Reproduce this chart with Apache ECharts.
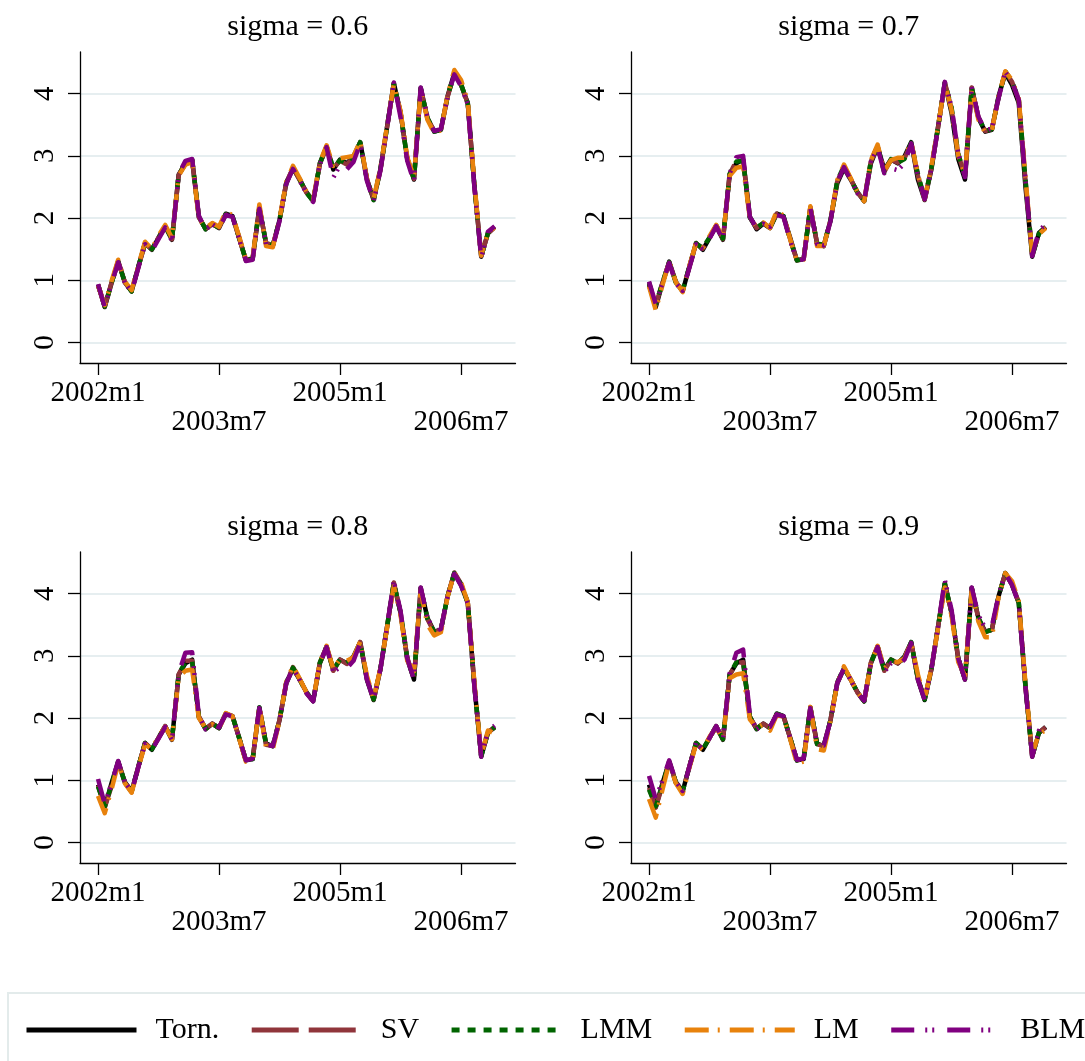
<!DOCTYPE html>
<html><head><meta charset="utf-8">
<script src="https://cdn.jsdelivr.net/npm/echarts@6/dist/echarts.min.js"></script>
<style>html,body{margin:0;padding:0;background:#fff}#c{width:1085px;height:1061px}</style>
</head><body><div id="c"></div><script>
const MONTH_TICKS = [0, 18, 36, 54];
const MONTH_LABELS = ['2002m1', '2003m7', '2005m1', '2006m7'];
const Y_TICKS = [0, 1, 2, 3, 4];
const SERIES_NAMES = ['Torn.', 'SV', 'LMM', 'LM', 'BLM'];
const PANEL_TITLES = ['sigma = 0.6', 'sigma = 0.7', 'sigma = 0.8', 'sigma = 0.9'];

const TORN = [
0.93,0.57,0.95,1.30,0.97,0.82,1.22,1.60,1.49,1.68,
1.87,1.65,2.70,2.88,2.94,2.02,1.82,1.91,1.84,2.07,
2.03,1.68,1.32,1.34,2.17,1.59,1.55,1.97,2.56,2.80,
2.62,2.42,2.27,2.88,3.15,2.78,2.94,2.88,2.99,3.22,
2.62,2.29,2.78,3.47,4.17,3.69,2.95,2.62,4.09,3.61,
3.39,3.42,3.96,4.33,4.14,3.85,2.50,1.38,1.76,1.86];

const SV_06 = [
0.92,0.58,0.96,1.31,0.96,0.83,1.21,1.59,1.50,1.69,
1.86,1.66,2.69,2.89,2.93,2.01,1.83,1.90,1.85,2.06,
2.04,1.67,1.33,1.35,2.16,1.60,1.56,1.96,2.57,2.81,
2.61,2.41,2.28,2.87,3.14,2.80,2.92,2.86,2.98,3.21,
2.63,2.30,2.77,3.46,4.16,3.70,2.96,2.63,4.08,3.60,
3.40,3.41,3.95,4.32,4.15,3.84,2.51,1.39,1.75,1.85];
const LMM_06 = [
0.93,0.58,0.95,1.30,0.96,0.82,1.22,1.60,1.50,1.68,
1.87,1.66,2.70,2.87,2.93,2.02,1.82,1.91,1.84,2.06,
2.03,1.68,1.32,1.35,2.17,1.59,1.56,1.97,2.56,2.80,
2.62,2.41,2.27,2.88,3.15,2.80,2.93,2.88,2.98,3.22,
2.62,2.29,2.78,3.47,4.16,3.69,2.95,2.63,4.09,3.61,
3.39,3.42,3.96,4.33,4.15,3.85,2.50,1.38,1.76,1.86];
const LM_06 = [
0.92,0.60,0.98,1.33,0.98,0.84,1.24,1.62,1.50,1.72,
1.89,1.68,2.68,2.86,2.90,2.00,1.84,1.92,1.86,2.10,
2.05,1.70,1.34,1.36,2.22,1.55,1.53,1.99,2.58,2.84,
2.64,2.43,2.29,2.90,3.17,2.84,2.96,2.98,3.00,3.24,
2.64,2.31,2.80,3.49,4.15,3.72,2.98,2.66,4.06,3.58,
3.37,3.41,3.98,4.38,4.22,3.88,2.55,1.40,1.77,1.85];
const BLM_06 = [
0.94,0.57,0.94,1.29,0.96,0.81,1.20,1.58,1.47,1.66,
1.85,1.63,2.71,2.92,2.95,2.04,1.81,1.90,1.83,2.05,
2.02,1.66,1.31,1.33,2.15,1.58,1.54,1.95,2.55,2.79,
2.60,2.40,2.26,2.86,3.14,2.65,2.85,2.78,2.90,3.20,
2.60,2.27,2.76,3.45,4.18,3.62,2.92,2.58,4.10,3.63,
3.40,3.43,3.94,4.31,4.12,3.83,2.48,1.36,1.78,1.87];

const SV_07 = [
0.95,0.60,0.96,1.29,0.97,0.83,1.21,1.59,1.51,1.69,
1.88,1.66,2.71,2.92,2.93,2.01,1.84,1.92,1.85,2.07,
2.03,1.66,1.32,1.34,2.17,1.59,1.56,1.96,2.59,2.83,
2.63,2.41,2.28,2.91,3.15,2.74,2.94,2.89,2.96,3.21,
2.68,2.31,2.80,3.46,4.18,3.76,3.02,2.68,4.10,3.62,
3.40,3.43,3.94,4.35,4.19,3.90,2.60,1.40,1.75,1.85];
const LMM_07 = [
0.96,0.62,0.96,1.29,0.96,0.84,1.22,1.59,1.52,1.69,
1.88,1.67,2.71,2.91,2.92,2.01,1.85,1.92,1.85,2.07,
2.03,1.65,1.32,1.34,2.17,1.59,1.57,1.96,2.60,2.84,
2.62,2.41,2.28,2.92,3.16,2.73,2.95,2.89,2.95,3.21,
2.71,2.31,2.81,3.46,4.18,3.78,3.03,2.68,4.10,3.62,
3.40,3.43,3.94,4.36,4.20,3.91,2.62,1.40,1.75,1.85];
const LM_07 = [
0.90,0.52,0.92,1.30,0.97,0.81,1.23,1.60,1.52,1.71,
1.89,1.68,2.68,2.81,2.83,2.00,1.86,1.93,1.84,2.12,
2.04,1.66,1.31,1.33,2.19,1.55,1.55,1.97,2.61,2.86,
2.64,2.42,2.27,2.93,3.18,2.76,2.93,2.97,2.97,3.22,
2.70,2.30,2.83,3.48,4.16,3.74,3.00,2.70,4.07,3.58,
3.37,3.41,3.96,4.36,4.22,3.92,2.65,1.42,1.74,1.84];
const BLM_07 = [
0.98,0.62,0.95,1.28,0.95,0.83,1.20,1.58,1.50,1.67,
1.87,1.65,2.72,2.98,3.00,2.02,1.84,1.91,1.86,2.05,
2.02,1.64,1.31,1.34,2.16,1.58,1.56,1.95,2.58,2.82,
2.61,2.40,2.28,2.90,3.14,2.72,2.80,2.77,2.88,3.20,
2.69,2.30,2.79,3.45,4.19,3.79,3.04,2.66,4.11,3.63,
3.41,3.44,3.93,4.35,4.19,3.90,2.60,1.39,1.80,1.90];

const SV_08 = [
0.92,0.56,0.90,1.29,0.96,0.81,1.22,1.60,1.50,1.68,
1.87,1.66,2.70,2.92,2.92,2.03,1.83,1.91,1.84,2.07,
2.03,1.68,1.31,1.34,2.18,1.57,1.55,1.97,2.57,2.82,
2.62,2.41,2.27,2.89,3.15,2.76,2.94,2.87,2.96,3.22,
2.64,2.30,2.79,3.47,4.18,3.70,2.97,2.63,4.09,3.59,
3.38,3.42,3.96,4.34,4.16,3.86,2.52,1.39,1.77,1.85];
const LMM_08 = [
0.90,0.58,0.92,1.30,0.96,0.82,1.22,1.60,1.50,1.68,
1.87,1.66,2.71,2.90,2.91,2.02,1.83,1.91,1.84,2.07,
2.03,1.68,1.32,1.34,2.17,1.58,1.55,1.97,2.57,2.81,
2.62,2.41,2.27,2.89,3.15,2.77,2.94,2.88,2.97,3.22,
2.63,2.30,2.79,3.47,4.17,3.70,2.96,2.63,4.09,3.60,
3.38,3.42,3.96,4.33,4.15,3.86,2.51,1.39,1.77,1.85];
const LM_08 = [
0.75,0.47,0.85,1.27,0.95,0.80,1.20,1.58,1.50,1.70,
1.86,1.66,2.66,2.76,2.78,2.00,1.84,1.90,1.83,2.08,
2.03,1.67,1.30,1.33,2.19,1.52,1.50,1.96,2.58,2.84,
2.63,2.42,2.28,2.90,3.16,2.79,2.95,2.92,2.98,3.23,
2.68,2.31,2.80,3.45,4.12,3.66,2.92,2.75,4.05,3.50,
3.33,3.38,3.95,4.33,4.18,3.86,2.55,1.40,1.80,1.75];
const BLM_08 = [
1.02,0.62,0.95,1.31,0.97,0.82,1.21,1.59,1.49,1.67,
1.86,1.65,2.72,3.05,3.06,2.04,1.82,1.90,1.85,2.06,
2.03,1.68,1.32,1.35,2.16,1.58,1.55,1.96,2.56,2.80,
2.61,2.40,2.27,2.88,3.14,2.74,2.82,2.80,2.92,3.21,
2.62,2.29,2.78,3.48,4.20,3.72,2.96,2.62,4.10,3.62,
3.40,3.43,3.96,4.32,4.13,3.84,2.49,1.38,1.79,1.88];

const SV_09 = [
0.88,0.56,0.92,1.30,0.96,0.81,1.22,1.60,1.50,1.68,
1.87,1.66,2.70,2.88,2.90,2.02,1.83,1.91,1.84,2.07,
2.03,1.68,1.32,1.34,2.17,1.58,1.55,1.97,2.57,2.81,
2.62,2.41,2.27,2.89,3.15,2.76,2.94,2.88,2.97,3.22,
2.64,2.30,2.79,3.47,4.15,3.70,2.96,2.63,4.09,3.60,
3.38,3.42,3.96,4.33,4.15,3.86,2.51,1.39,1.77,1.85];
const LMM_09 = [
0.85,0.58,0.92,1.30,0.96,0.82,1.22,1.60,1.50,1.68,
1.87,1.66,2.70,2.90,2.90,2.02,1.83,1.91,1.84,2.07,
2.03,1.68,1.32,1.34,2.17,1.58,1.55,1.97,2.57,2.81,
2.62,2.41,2.27,2.89,3.15,2.77,2.94,2.88,2.97,3.22,
2.63,2.30,2.79,3.47,4.16,3.70,2.96,2.63,4.09,3.60,
3.38,3.42,3.96,4.33,4.15,3.86,2.51,1.39,1.77,1.85];
const LM_09 = [
0.70,0.40,0.85,1.28,0.95,0.78,1.20,1.58,1.49,1.70,
1.85,1.66,2.64,2.70,2.72,1.98,1.84,1.90,1.80,2.05,
2.02,1.66,1.27,1.30,2.18,1.50,1.48,1.95,2.56,2.83,
2.62,2.42,2.27,2.88,3.16,2.80,2.90,2.90,2.96,3.22,
2.70,2.31,2.80,3.45,4.10,3.65,2.90,2.68,4.05,3.55,
3.30,3.30,3.95,4.33,4.20,3.88,2.55,1.42,1.75,1.80];
const BLM_09 = [
1.07,0.70,1.00,1.32,0.98,0.83,1.22,1.60,1.50,1.68,
1.87,1.65,2.72,3.05,3.10,2.05,1.82,1.90,1.86,2.06,
2.03,1.68,1.33,1.35,2.16,1.58,1.56,1.96,2.56,2.80,
2.61,2.40,2.28,2.88,3.14,2.74,2.88,2.85,2.94,3.21,
2.62,2.29,2.78,3.48,4.22,3.74,2.96,2.62,4.10,3.65,
3.45,3.48,3.97,4.33,4.14,3.84,2.49,1.38,1.80,1.95];

const PANEL_DATA = [
  [TORN, SV_06, LMM_06, LM_06, BLM_06],
  [TORN, SV_07, LMM_07, LM_07, BLM_07],
  [TORN, SV_08, LMM_08, LM_08, BLM_08],
  [TORN, SV_09, LMM_09, LM_09, BLM_09]
];

// ---- styling / layout ----
const FONT = 'Liberation Serif';
const LINE_STYLES = [
  { color: '#000000', type: 'solid' },
  { color: '#90353B', type: [47, 10] },
  { color: '#006400', type: [8, 8] },
  { color: '#E8820C', type: [24, 9, 2, 10] },
  { color: '#800080', type: [23, 11, 2, 5, 2, 13] }
];
const GRIDS = [
  { left: 80, top: 52 }, { left: 631, top: 52 },
  { left: 80, top: 552 }, { left: 631, top: 552 }
];
const GW = 435.5, GH = 311;

const chart = echarts.init(document.getElementById('c'), null, { renderer: 'canvas' });
const grid = [], xAxis = [], yAxis = [], series = [], graphic = [];
GRIDS.forEach((g, p) => {
  grid.push({ left: g.left, top: g.top, width: GW, height: GH, containLabel: false, outerBoundsMode: 'none' });
  xAxis.push({
    gridIndex: p, type: 'value', min: -2.68, max: 62.1,
    axisLine: { show: true, onZero: false, lineStyle: { color: '#000', width: 1.3 } },
    axisTick: { show: true, length: 12, customValues: MONTH_TICKS, lineStyle: { color: '#000', width: 1.3 } },
    axisLabel: {
      show: true, customValues: MONTH_TICKS, margin: 16,
      fontFamily: FONT, fontSize: 29, lineHeight: 29, color: '#000',
      formatter: v => { const i = MONTH_TICKS.indexOf(v); return (i % 2 === 1 ? '\n' : '') + MONTH_LABELS[i]; }
    },
    splitLine: { show: false }
  });
  yAxis.push({
    gridIndex: p, type: 'value', min: -0.33, max: 4.67,
    axisLine: { show: true, onZero: false, lineStyle: { color: '#000', width: 1.3 } },
    axisTick: { show: true, length: 12, customValues: Y_TICKS, lineStyle: { color: '#000', width: 1.3 } },
    axisLabel: { show: true, customValues: Y_TICKS, rotate: 90, margin: 20, fontFamily: FONT, fontSize: 29, color: '#000' },
    splitLine: { show: true, lineStyle: { color: '#E6EEF0', width: 2 } }
  });
  PANEL_DATA[p].forEach((arr, s) => {
    series.push({
      type: 'line', name: SERIES_NAMES[s], xAxisIndex: p, yAxisIndex: p,
      data: arr.map((v, i) => [i, v]),
      symbol: 'none', silent: true, z: 2 + s,
      lineStyle: { color: LINE_STYLES[s].color, width: 4.5, type: LINE_STYLES[s].type, cap: 'butt', join: 'round' },
      itemStyle: { color: LINE_STYLES[s].color }
    });
  });
  graphic.push({
    type: 'text', x: g.left + GW / 2, y: g.top - 25,
    style: { text: PANEL_TITLES[p], fontFamily: FONT, fontSize: 30, fill: '#000', textAlign: 'center', textVerticalAlign: 'middle' }
  });
});
graphic.push({
  type: 'rect', shape: { x: 8, y: 993, width: 1090, height: 100 },
  style: { fill: 'none', stroke: '#E3EBEB', lineWidth: 2 }
});

chart.setOption({
  animation: false,
  backgroundColor: '#fff',
  grid, xAxis, yAxis, series, graphic,
  legend: {
    data: SERIES_NAMES, left: 24, top: 1015, width: 1200, padding: 0,
    itemWidth: 110, itemHeight: 30, itemGap: 30,
    itemStyle: { opacity: 0, color: 'rgba(0,0,0,0)', borderWidth: 0 },
    lineStyle: { width: 5, type: 'inherit', color: 'inherit', cap: 'butt' },
    textStyle: { fontFamily: FONT, fontSize: 30, color: '#000', padding: [0, 0, 0, 14] }
  }
});
</script></body></html>
